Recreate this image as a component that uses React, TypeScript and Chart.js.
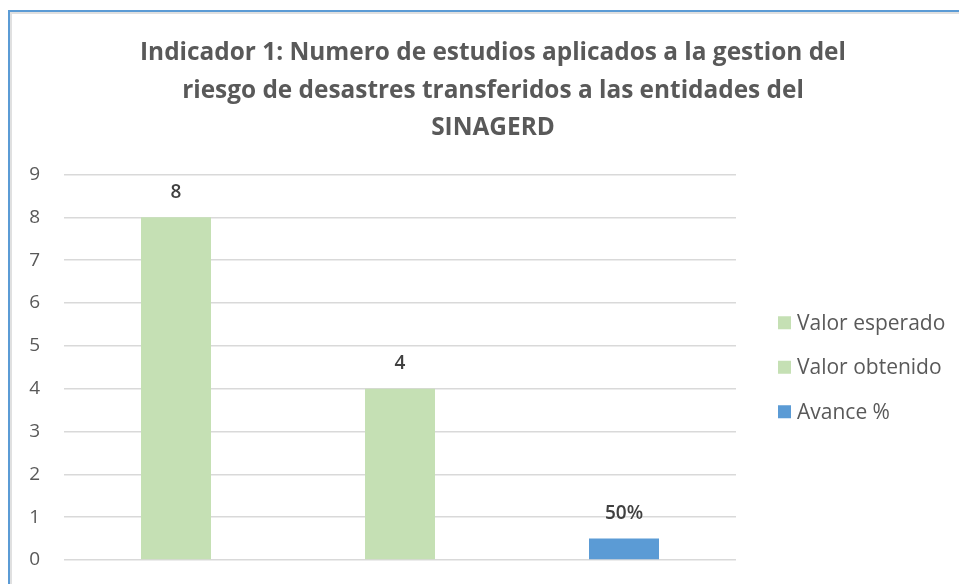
import React, { useEffect, useRef } from "react";
import { Chart, registerables } from "chart.js";

Chart.register(...registerables);

const categories = ["Valor esperado", "Valor obtenido", "Avance %"];
const values = [8, 4, 0.5];
const valueLabels = ["8", "4", "50%"];
const barColors = ["#c5e0b4", "#c5e0b4", "#5b9bd5"];
const yTicks = [0, 1, 2, 3, 4, 5, 6, 7, 8, 9];
const titleLines = [
  "Indicador 1: Numero de estudios aplicados a la gestion del",
  "riesgo de desastres transferidos a las entidades del",
  "SINAGERD",
];

const FONT = "'Open Sans', Lato, sans-serif";

const dataLabelPlugin = {
  id: "dataLabels",
  afterDatasetsDraw(chart: any) {
    const ctx = chart.ctx;
    const meta = chart.getDatasetMeta(0);
    ctx.save();
    ctx.font = `600 19px ${FONT}`;
    ctx.fillStyle = "#404040";
    ctx.textAlign = "center";
    ctx.textBaseline = "middle";
    meta.data.forEach((bar: any, i: number) => {
      ctx.fillText(valueLabels[i], bar.x, bar.y - 25);
    });
    ctx.restore();
  },
};

const legendPlugin = {
  id: "sideLegend",
  afterDraw(chart: any) {
    const ctx = chart.ctx;
    const area = chart.chartArea;
    const midY = (area.top + area.bottom) / 2;
    const step = 44.5;
    ctx.save();
    ctx.font = `21px ${FONT}`;
    ctx.textAlign = "left";
    ctx.textBaseline = "middle";
    categories.forEach((c, i) => {
      const y = midY + (i - (categories.length - 1) / 2) * step;
      const x = area.right + 42;
      ctx.fillStyle = barColors[i];
      ctx.fillRect(x, y - 6.5, 13, 13);
      ctx.fillStyle = "#595959";
      ctx.fillText(c, x + 19, y + 1);
    });
    ctx.restore();
  },
};

export default function App() {
  const canvasRef = useRef<HTMLCanvasElement | null>(null);

  useEffect(() => {
    document.body.style.margin = "0";
    document.body.style.overflow = "hidden";
    const chart = new Chart(canvasRef.current as HTMLCanvasElement, {
      type: "bar",
      data: {
        labels: categories,
        datasets: [
          {
            label: "Serie",
            data: values,
            backgroundColor: barColors,
            borderWidth: 0,
            categoryPercentage: 1,
            barPercentage: 0.3125,
          },
        ],
      },
      options: {
        animation: false,
        responsive: false,
        maintainAspectRatio: false,
        layout: { padding: { left: 0, right: 0, top: 22.5, bottom: 24 } },
        plugins: {
          title: {
            display: true,
            text: titleLines,
            color: "#595959",
            font: { family: FONT, size: 24.4, weight: "bold", lineHeight: 1.537 },
            padding: { top: 0, bottom: 27.5 },
          },
          legend: { display: false },
          tooltip: { enabled: false },
        },
        scales: {
          x: {
            grid: { display: false, drawTicks: false },
            border: { display: false },
            ticks: { display: false },
          },
          y: {
            min: 0,
            max: 9,
            afterBuildTicks: (axis: any) => {
              axis.ticks = yTicks.map((v) => ({ value: v }));
            },
            afterFit: (axis: any) => {
              axis.width = 54;
              axis.paddingTop = 10;
              axis.paddingBottom = 10;
            },
            grid: { color: "#d9d9d9", lineWidth: 1.5, drawTicks: false },
            border: { display: false },
            ticks: {
              color: "#595959",
              font: { family: FONT, size: 19 },
              padding: 24,
            },
          },
          yLegendSpace: {
            position: "right",
            min: 0,
            max: 9,
            grid: { display: false, drawTicks: false },
            border: { display: false },
            ticks: { display: false },
            afterFit: (axis: any) => {
              axis.width = 240;
              axis.paddingTop = 0;
              axis.paddingBottom = 0;
            },
          },
        },
      },
      plugins: [dataLabelPlugin, legendPlugin],
    } as any);
    return () => chart.destroy();
  }, []);

  return (
    <div style={{ position: "relative", width: 959, height: 584, overflow: "hidden", background: "#fff" }}>
      <div
        style={{
          position: "absolute",
          left: 8,
          top: 10,
          width: 1100,
          height: 800,
          borderTop: "2px solid #5b9bd5",
          borderLeft: "2px solid #5b9bd5",
          boxShadow: "inset 2px 2px 0 #e0e0e0",
        }}
      />
      <canvas
        ref={canvasRef}
        width={966}
        height={572}
        style={{ position: "absolute", left: 10, top: 12, width: 966, height: 572 }}
      />
    </div>
  );
}
